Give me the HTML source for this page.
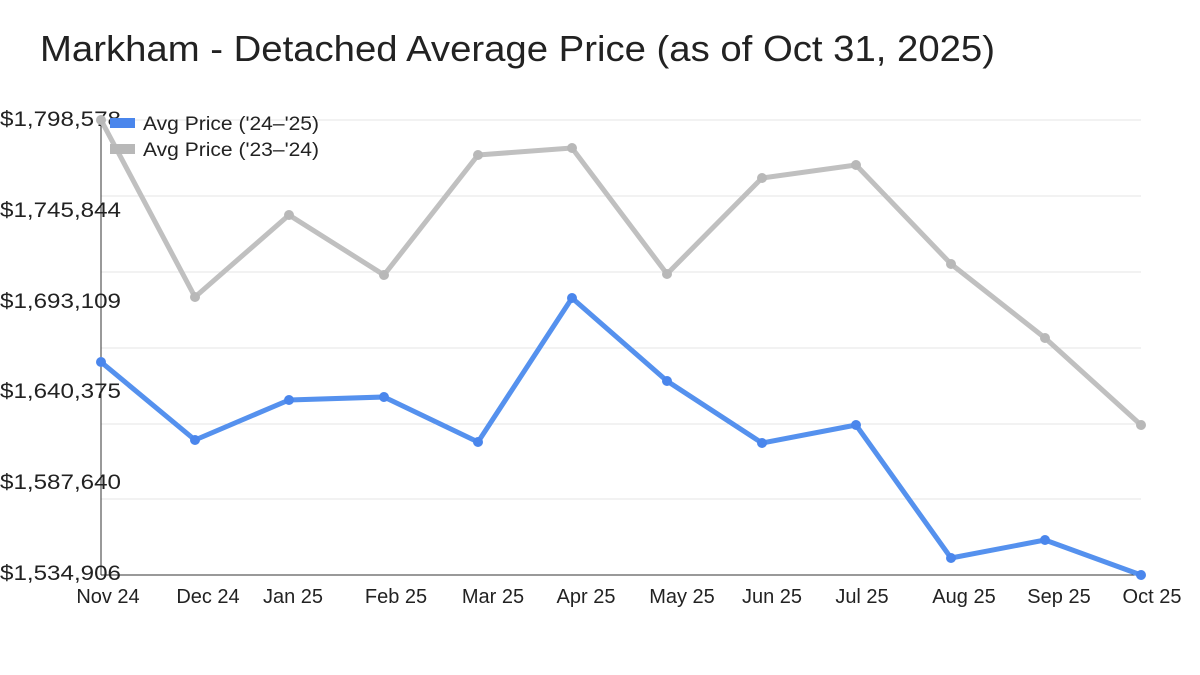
<!DOCTYPE html>
<html><head><meta charset="utf-8"><style>
html,body{margin:0;padding:0;background:#fff;}
svg{display:block;font-family:"Liberation Sans",sans-serif;}
</style></head><body>
<svg width="1200" height="675" viewBox="0 0 1200 675">
<text x="40" y="61" font-size="36" fill="#222" textLength="955" lengthAdjust="spacingAndGlyphs">Markham - Detached Average Price (as of Oct 31, 2025)</text>
<g stroke="#e6e6e6" stroke-width="1">
<line x1="101" y1="120" x2="1141" y2="120"/>
<line x1="101" y1="196" x2="1141" y2="196"/>
<line x1="101" y1="272" x2="1141" y2="272"/>
<line x1="101" y1="348" x2="1141" y2="348"/>
<line x1="101" y1="424" x2="1141" y2="424"/>
<line x1="101" y1="499" x2="1141" y2="499"/>
</g>
<line x1="101" y1="120" x2="101" y2="575" stroke="#333" stroke-width="1"/>
<line x1="101" y1="575" x2="1141" y2="575" stroke="#333" stroke-width="1"/>
<g font-size="21" fill="#222">
<text x="0" y="126" textLength="121" lengthAdjust="spacingAndGlyphs">$1,798,578</text>
<text x="0" y="217" textLength="121" lengthAdjust="spacingAndGlyphs">$1,745,844</text>
<text x="0" y="308" textLength="121" lengthAdjust="spacingAndGlyphs">$1,693,109</text>
<text x="0" y="398" textLength="121" lengthAdjust="spacingAndGlyphs">$1,640,375</text>
<text x="0" y="489" textLength="121" lengthAdjust="spacingAndGlyphs">$1,587,640</text>
<text x="0" y="580" textLength="121" lengthAdjust="spacingAndGlyphs">$1,534,906</text>
</g>
<g font-size="20" fill="#222" text-anchor="middle">
<text x="108" y="603">Nov 24</text>
<text x="208" y="603">Dec 24</text>
<text x="293" y="603">Jan 25</text>
<text x="396" y="603">Feb 25</text>
<text x="493" y="603">Mar 25</text>
<text x="586" y="603">Apr 25</text>
<text x="682" y="603">May 25</text>
<text x="772" y="603">Jun 25</text>
<text x="862" y="603">Jul 25</text>
<text x="964" y="603">Aug 25</text>
<text x="1059" y="603">Sep 25</text>
<text x="1152" y="603">Oct 25</text>
</g>
<polyline fill="none" stroke="#c0c0c0" stroke-width="5" stroke-linejoin="round" points="101,120 195,297 289,215 384,275 478,155 572,148 667,274 762,178 856,165 951,264 1045,338 1141,425"/>
<g fill="#b8b8b8">
<circle cx="101" cy="120" r="5"/><circle cx="195" cy="297" r="5"/><circle cx="289" cy="215" r="5"/><circle cx="384" cy="275" r="5"/><circle cx="478" cy="155" r="5"/><circle cx="572" cy="148" r="5"/><circle cx="667" cy="274" r="5"/><circle cx="762" cy="178" r="5"/><circle cx="856" cy="165" r="5"/><circle cx="951" cy="264" r="5"/><circle cx="1045" cy="338" r="5"/><circle cx="1141" cy="425" r="5"/>
</g>
<polyline fill="none" stroke="#5591ee" stroke-width="5" stroke-linejoin="round" points="101,362 195,440 289,400 384,397 478,442 572,298 667,381 762,443 856,425 951,558 1045,540 1141,575"/>
<g fill="#4a86ec">
<circle cx="101" cy="362" r="5"/><circle cx="195" cy="440" r="5"/><circle cx="289" cy="400" r="5"/><circle cx="384" cy="397" r="5"/><circle cx="478" cy="442" r="5"/><circle cx="572" cy="298" r="5"/><circle cx="667" cy="381" r="5"/><circle cx="762" cy="443" r="5"/><circle cx="856" cy="425" r="5"/><circle cx="951" cy="558" r="5"/><circle cx="1045" cy="540" r="5"/><circle cx="1141" cy="575" r="5"/>
</g>
<rect x="110" y="118" width="25" height="10" fill="#4a86ec"/>
<rect x="110" y="144" width="25" height="10" fill="#b8b8b8"/>
<g font-size="19" fill="#222">
<text x="143" y="130" textLength="176" lengthAdjust="spacingAndGlyphs">Avg Price ('24–'25)</text>
<text x="143" y="156" textLength="176" lengthAdjust="spacingAndGlyphs">Avg Price ('23–'24)</text>
</g>
</svg>
</body></html>
